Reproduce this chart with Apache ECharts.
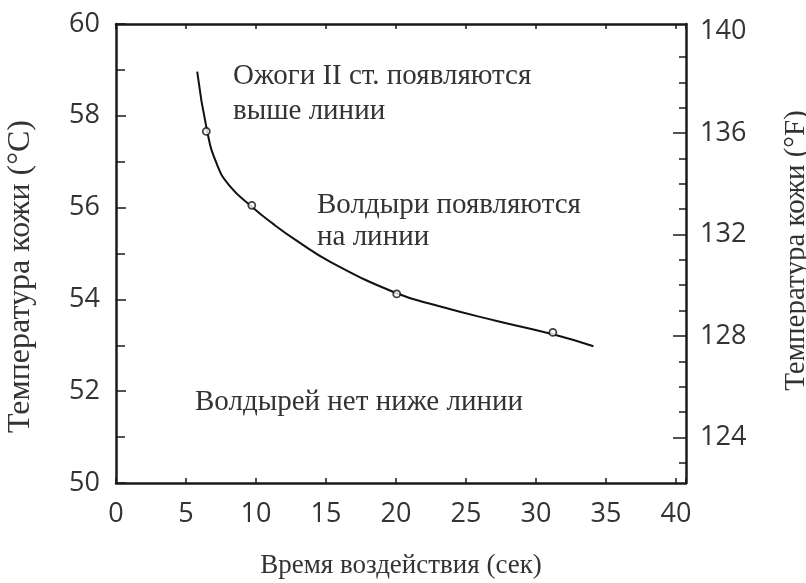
<!DOCTYPE html>
<html>
<head>
<meta charset="utf-8">
<script src="https://cdn.jsdelivr.net/npm/echarts@6/dist/echarts.min.js"></script>
<style>
  html, body { margin: 0; padding: 0; background: #fff; }
  #main { width: 806px; height: 583px; }
</style>
</head>
<body>
<div id="main"></div>
<script>
// кривая (время, сек / температура, °C)
var curveX = [5.8, 6.5, 7.2, 8.1, 9.7, 11.2, 12.9, 15.3, 20.0, 23.1, 27.2, 31.2, 34.1];
var curveY = [58.96, 57.68, 56.95, 56.48, 56.02, 55.65, 55.28, 54.82, 54.14, 53.85, 53.53, 53.24, 52.98];
// экспериментальные точки
var pointX = [6.45, 9.7, 20.05, 31.2];
var pointY = [57.66, 56.05, 54.12, 53.28];
// подписи осей
var xTicks = [0, 5, 10, 15, 20, 25, 30, 35, 40];
var fMajor = [124, 128, 132, 136];
var fLabels = [124, 128, 132, 136, 140];
var fMinor = [123, 125, 126, 127, 129, 130, 131, 133, 134, 135, 137, 138, 139];

var numFont = { fontFamily: 'Open Sans', fontSize: 27, color: '#333' };
var serif = 'Liberation Serif';
var lineColor = '#1a1a1a';

var myChart = echarts.init(document.getElementById('main'));
myChart.setOption({
    animation: false,
    grid: { left: 116, right: 120, top: 24, bottom: 100, outerBoundsMode: 'none', containLabel: false },
    xAxis: [
        {
            type: 'value', position: 'bottom',
            min: 0, max: 40.71, interval: 5,
            axisLine: { onZero: false, lineStyle: { color: lineColor, width: 2.5 } },
            axisTick: { inside: true, length: 5, lineStyle: { color: lineColor, width: 1.5 } },
            axisLabel: Object.assign({
                margin: 18,
                formatter: function (v) { return xTicks.indexOf(v) >= 0 ? String(v) : ''; }
            }, numFont),
            splitLine: { show: false },
            name: 'Время воздействия (сек)',
            nameLocation: 'middle',
            nameGap: 69,
            nameTextStyle: { fontFamily: serif, fontSize: 27, color: '#333' }
        },
        {
            type: 'value', position: 'top',
            min: 0, max: 40.71, interval: 5,
            axisLine: { onZero: false, lineStyle: { color: lineColor, width: 2.5 } },
            axisTick: { inside: true, length: 5, lineStyle: { color: lineColor, width: 1.5 } },
            axisLabel: { show: false },
            splitLine: { show: false }
        }
    ],
    yAxis: [
        {
            type: 'value', position: 'left',
            min: 50, max: 60, interval: 2,
            axisLine: { show: true, onZero: false, lineStyle: { color: lineColor, width: 2.5 } },
            axisTick: { inside: true, length: 10, lineStyle: { color: lineColor, width: 1.5 } },
            minorTick: { show: true, splitNumber: 2, length: 9, lineStyle: { color: lineColor, width: 1.5 } },
            axisLabel: Object.assign({ margin: 16 }, numFont),
            splitLine: { show: false },
            name: 'Температура кожи (°C)',
            nameLocation: 'middle',
            nameGap: 79,
            nameTextStyle: { fontFamily: serif, fontSize: 32, color: '#333', padding: [0, 46, 0, 0] }
        },
        {
            type: 'value', position: 'right',
            min: 122.2, max: 140.3,
            axisLine: { show: true, onZero: false, lineStyle: { color: lineColor, width: 2.5 } },
            axisTick: { inside: true, length: 13, customValues: fMajor, lineStyle: { color: lineColor, width: 1.5 } },
            axisLabel: Object.assign({ margin: 14, customValues: fLabels }, numFont),
            splitLine: { show: false },
            name: 'Температура кожи (°F)',
            nameLocation: 'middle',
            nameGap: 96,
            nameTextStyle: { fontFamily: serif, fontSize: 29, color: '#333', padding: [0, 0, 0, 6] }
        },
        {
            type: 'value', position: 'right',
            min: 122.2, max: 140.3,
            axisLine: { show: false, onZero: false },
            axisTick: { inside: true, length: 7, customValues: fMinor, lineStyle: { color: lineColor, width: 1.5 } },
            axisLabel: { show: false },
            splitLine: { show: false }
        }
    ],
    graphic: [
        { type: 'text', left: 233, top: 59,
          style: { text: 'Ожоги II ст. появляются\nвыше линии', font: '29px "Liberation Serif"', fill: '#333', lineHeight: 35 } },
        { type: 'text', left: 317, top: 189,
          style: { text: 'Волдыри появляются\nна линии', font: '29px "Liberation Serif"', fill: '#333', lineHeight: 32 } },
        { type: 'text', left: 195, top: 388,
          style: { text: 'Волдырей нет ниже линии', font: '29px "Liberation Serif"', fill: '#333' } }
    ],
    series: [
        {
            name: 'кривая',
            type: 'line',
            smooth: 0.5,
            showSymbol: false,
            lineStyle: { color: '#111', width: 2 },
            data: curveX.map(function (x, i) { return [x, curveY[i]]; })
        },
        {
            name: 'точки',
            type: 'scatter',
            symbol: 'circle',
            symbolSize: 7,
            itemStyle: { color: '#fff', borderColor: '#111', borderWidth: 1.8 },
            data: pointX.map(function (x, i) { return [x, pointY[i]]; }),
            z: 3
        }
    ]
});
</script>
</body>
</html>
